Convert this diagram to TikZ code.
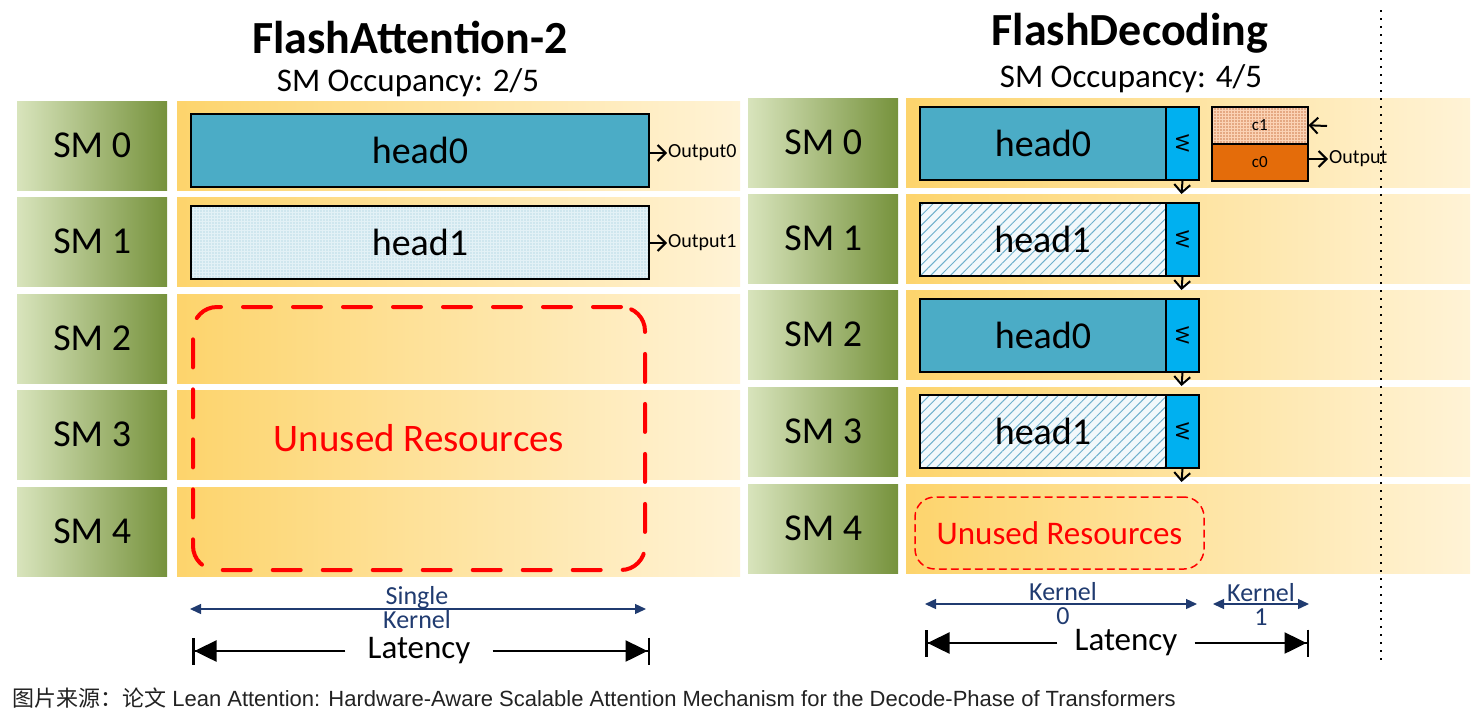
\documentclass[tikz,border=0pt]{standalone}
\usepackage{fontspec}
\setmainfont{Carlito}
\newfontfamily\capfont{Liberation Sans}
\newfontfamily\cjkfont{Noto Sans CJK SC}
\usetikzlibrary{arrows.meta,positioning,patterns.meta}

\definecolor{smlight}{HTML}{D8E4BC}
\definecolor{smdark}{HTML}{76923C}
\definecolor{bgleft}{HTML}{FDD46C}
\definecolor{bgright}{HTML}{FFF3D6}
\definecolor{headblue}{HTML}{4BACC6}
\definecolor{dotbg}{HTML}{E3F1F6}
\definecolor{dotfg}{HTML}{8FC3D6}
\definecolor{hatchbg}{HTML}{F2F8FB}
\definecolor{hatchfg}{HTML}{6FB0CC}
\definecolor{wblue}{HTML}{00B0F0}
\definecolor{cpale}{HTML}{FBD3B5}
\definecolor{cdots}{HTML}{D08050}
\definecolor{corange}{HTML}{E46C0A}
\definecolor{navy}{HTML}{203B70}
\definecolor{capgray}{HTML}{222222}

\begin{document}
\begin{tikzpicture}[x=1pt,y=-1pt,
  smlabel/.style={anchor=north west,minimum width=150pt,minimum height=89pt,inner sep=0pt,
    left color=smlight,right color=smdark,font=\fontsize{38}{40}\selectfont},
  rowbg/.style={anchor=north west,minimum width=563pt,minimum height=89pt,inner sep=0pt,
    left color=bgleft,right color=bgright},
  headbox/.style={anchor=north west,draw=black,line width=2pt,minimum height=73pt,inner sep=0pt,
    font=\fontsize{38}{40}\selectfont},
  dotted head/.style={preaction={fill=dotbg},pattern={Dots[distance=3pt,radius=0.7pt]},pattern color=dotfg},
  hatched head/.style={preaction={fill=hatchbg},pattern={Lines[angle=45,distance=7pt,line width=1pt]},pattern color=hatchfg},
  wbox/.style={anchor=north west,draw=black,line width=2pt,fill=wblue,minimum width=33pt,minimum height=73pt,
    inner sep=0pt,font=\fontsize{20}{20}\selectfont},
  cbox/.style={anchor=north west,draw=black,line width=1.5pt,minimum width=96pt,minimum height=37pt,
    inner sep=0pt,font=\fontsize{17}{18}\selectfont},
  outlabel/.style={anchor=west,inner sep=1pt,font=\fontsize{20}{22}\selectfont},
  small arrow/.style={draw,line width=2pt,arrows={-Straight Barb[length=8pt,width=16pt]}},
  unused/.style={draw=red,text=red,rounded corners=24pt,dash pattern=on 28pt off 22pt,line cap=round,
    line width=4pt,font=\fontsize{39}{40}\selectfont},
  kernel/.style={navy,line width=1.3pt,{Triangle[length=11pt,width=10pt]}-{Triangle[length=11pt,width=10pt]}},
  kernel label/.style={text=navy,align=center,inner sep=0pt,font=\fontsize{26}{24}\selectfont},
  latency/.style={line width=2.5pt,-{Triangle[length=22pt,width=21pt]Bar[width=27pt,line width=2.5pt]}},
  latency label/.style={inner xsep=22pt,inner ysep=0pt,font=\fontsize{33}{34}\selectfont},
  title/.style={font=\bfseries\fontsize{46}{48}\selectfont},
  occupancy/.style={font=\fontsize{33}{34}\selectfont}
]
\useasboundingbox (0,0) rectangle (1483,721);

% FlashAttention-2
\node[title] (fa) at (410,37) {FlashAttention-2};
\node[occupancy] (occa) at (408,83) {SM Occupancy: 2/5};

\node[rowbg] (ra0) at (177,101) {};
\node[rowbg] (ra1) at (177,197) {};
\node[rowbg] (ra2) at (177,294) {};
\node[rowbg] (ra3) at (177,390) {};
\node[rowbg] (ra4) at (177,487) {};
\node[smlabel] (sa0) at (17,101) {SM 0};
\node[smlabel] (sa1) at (17,197) {SM 1};
\node[smlabel] (sa2) at (17,294) {SM 2};
\node[smlabel] (sa3) at (17,390) {SM 3};
\node[smlabel] (sa4) at (17,487) {SM 4};

\node[headbox,fill=headblue,minimum width=458pt] (ha0) at (190,113) {head0};
\node[headbox,dotted head,minimum width=458pt] (ha1) at (190,205) {head1};
\node[outlabel] (oa0) at (667,153) {Output0};
\node[outlabel] (oa1) at (667,243) {Output1};

\node[unused,minimum width=452pt,minimum height=263pt] (ua) at (419,438.5) {Unused Resources};

\coordinate (ska) at (190,609);
\coordinate (skb) at (646,609);
\node[kernel label] (sk) at (417,608) {Single\\Kernel};
\node[latency label] (lata) at (419,651) {Latency};
\coordinate (latal) at (192,651);
\coordinate (latar) at (650,651);

% FlashDecoding
\node[title] (fd) at (1130,33) {FlashDecoding};
\node[occupancy] (occd) at (1131,79) {SM Occupancy: 4/5};

\node[rowbg,minimum width=564pt] (rd0) at (906,98) {};
\node[rowbg,minimum width=564pt] (rd1) at (906,194) {};
\node[rowbg,minimum width=564pt] (rd2) at (906,290) {};
\node[rowbg,minimum width=564pt] (rd3) at (906,387) {};
\node[rowbg,minimum width=564pt] (rd4) at (906,484) {};
\node[smlabel] (sd0) at (748,98) {SM 0};
\node[smlabel] (sd1) at (748,194) {SM 1};
\node[smlabel] (sd2) at (748,290) {SM 2};
\node[smlabel] (sd3) at (748,387) {SM 3};
\node[smlabel] (sd4) at (748,484) {SM 4};

\node[headbox,fill=headblue,minimum width=246pt] (hd0) at (919,106) {head0};
\node[headbox,hatched head,minimum width=246pt] (hd1) at (919,202) {head1};
\node[headbox,fill=headblue,minimum width=246pt] (hd2) at (919,298) {head0};
\node[headbox,hatched head,minimum width=246pt] (hd3) at (919,394) {head1};
\node[wbox] (w0) at (1165,106) {\rotatebox{-90}{W}};
\node[wbox] (w1) at (1165,202) {\rotatebox{-90}{W}};
\node[wbox] (w2) at (1165,298) {\rotatebox{-90}{W}};
\node[wbox] (w3) at (1165,394) {\rotatebox{-90}{W}};
\coordinate (dw0) at (1181.5,194);
\coordinate (dw1) at (1181.5,290);
\coordinate (dw2) at (1181.5,386);
\coordinate (dw3) at (1181.5,482);

\node[cbox,preaction={fill=cpale},pattern={Dots[distance=3pt,radius=0.8pt]},pattern color=cdots] (c1) at (1211,106) {c1};
\node[cbox,fill=corange] (c0) at (1211,143) {c0};
\coordinate (cin) at (1327,126);
\node[outlabel] (od) at (1328,159) {Output};

\node[unused,minimum width=289pt,minimum height=72pt,rounded corners=20pt,line width=1.5pt,
  dash pattern=on 7pt off 5pt,font=\fontsize{33}{34}\selectfont] (ud) at (1059.5,533) {Unused Resources};

\coordinate (k0a) at (925,604);
\coordinate (k0b) at (1197,604);
\coordinate (k1a) at (1213,604);
\coordinate (k1b) at (1309,604);
\node[kernel label] (k0) at (1063,604) {Kernel\\0};
\node[kernel label] (k1) at (1261,604) {Kernel\\1};
\node[latency label,inner xsep=17pt] (latd) at (1126,643) {Latency};
\coordinate (latdl) at (925,643);
\coordinate (latdr) at (1309,643);

\coordinate (sepa) at (1381,10);
\coordinate (sepb) at (1381,662);
\draw[line width=1.8pt,dash pattern=on 1.8pt off 6.2pt] (sepa) -- (sepb);

% connectors
\draw[small arrow] (ha0.east |- oa0.west) -- (oa0.west);
\draw[small arrow] (ha1.east |- oa1.west) -- (oa1.west);
\draw[small arrow] (w0.south) -- (dw0);
\draw[small arrow] (w1.south) -- (dw1);
\draw[small arrow] (w2.south) -- (dw2);
\draw[small arrow] (w3.south) -- (dw3);
\draw[small arrow] (cin) -- (c1.east);
\draw[small arrow] (c0.east |- od.west) -- (od.west);

\draw[kernel] (ska) -- (skb);
\draw[kernel] (k0a) -- (k0b);
\draw[kernel] (k1a) -- (k1b);
\path[latency]
  (lata) edge (latal)
         edge (latar)
  (latd) edge (latdl)
         edge (latdr);

\node[anchor=west,inner sep=0pt,text=capgray,font=\capfont\fontsize{22}{22}\selectfont] (cap) at (12,698)
  {{\cjkfont 图片来源：论文} Lean Attention: Hardware-Aware Scalable Attention Mechanism for the Decode-Phase of Transformers};
\end{tikzpicture}
\end{document}
